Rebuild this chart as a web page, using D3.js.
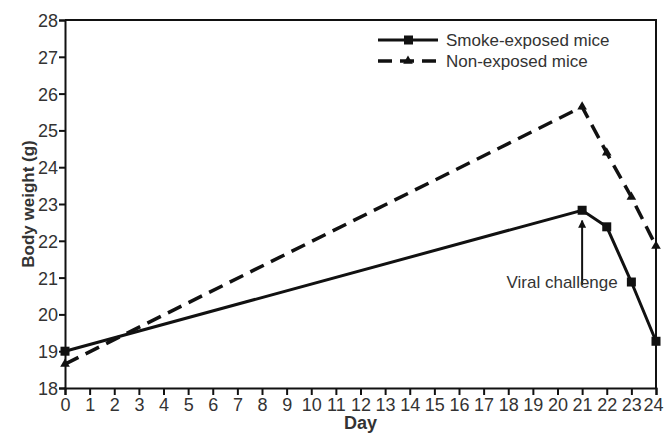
<!DOCTYPE html>
<html>
<head>
<meta charset="utf-8">
<script src="https://cdn.jsdelivr.net/npm/d3@7"></script>
<style>
  body { margin: 0; background: #fff; }
  text { font-family: "Liberation Sans", Arial, sans-serif; fill: #333; }
</style>
</head>
<body>
<svg id="chart" width="664" height="433"></svg>
<script>
// values
const days = [0, 21, 22, 23, 24];
const smokeWeights = [19.0, 22.83, 22.38, 20.88, 19.27];
const nonExposedWeights = [18.65, 25.64, 24.39, 23.19, 21.86];
const seriesNames = ['Smoke-exposed mice', 'Non-exposed mice'];
const xTicks = d3.range(0, 25);
const yTicks = d3.range(18, 29);

const svg = d3.select('#chart');
const margin = { top: 20, right: 8, bottom: 45, left: 65 };
const width = 664 - margin.left - margin.right;
const height = 433 - margin.top - margin.bottom;

const g = svg.append('g').attr('transform', `translate(${margin.left},${margin.top})`);

const x = d3.scaleLinear().domain([0, 24]).range([0, width]);
const y = d3.scaleLinear().domain([18, 28]).range([height, 0]);

// frame top and right
g.append('path')
    .attr('d', `M0,0H${width}V${height}`)
    .attr('fill', 'none')
    .attr('stroke', '#111')
    .attr('stroke-width', 2);

const xAxis = g.append('g')
    .attr('transform', `translate(0,${height})`)
    .call(d3.axisBottom(x).tickValues(xTicks).tickSize(7).tickPadding(3));

const yAxis = g.append('g')
    .call(d3.axisLeft(y).tickValues(yTicks).tickSize(6).tickPadding(1));

[xAxis, yAxis].forEach(ax => {
    ax.select('.domain').attr('stroke', '#111').attr('stroke-width', 2);
    ax.selectAll('.tick line').attr('stroke', '#111').attr('stroke-width', 2);
    ax.selectAll('.tick text').attr('fill', '#333').style('font-size', '18px');
});
yAxis.selectAll('.tick text').attr('dy', '0.36em');
// keep the last day label inside the window
xAxis.selectAll('.tick text').filter(d => d === 24).attr('dx', -3);

// axis titles
svg.append('text')
    .attr('x', margin.left + x(12))
    .attr('y', 429)
    .attr('text-anchor', 'middle')
    .style('font-size', '18px')
    .style('font-weight', 'bold')
    .text('Day');

svg.append('text')
    .attr('transform', `translate(34,${margin.top + height / 2}) rotate(-90)`)
    .attr('text-anchor', 'middle')
    .style('font-size', '17px')
    .style('font-weight', 'bold')
    .text('Body weight (g)');

const line = d3.line()
    .x(d => x(d[0]))
    .y(d => y(d[1]));

const smoke = days.map((d, i) => [d, smokeWeights[i]]);
const nonExposed = days.map((d, i) => [d, nonExposedWeights[i]]);

g.append('path')
    .datum(nonExposed)
    .attr('d', line)
    .attr('fill', 'none')
    .attr('stroke', '#111')
    .attr('stroke-width', 3.5)
    .attr('stroke-dasharray', '15,8');

g.append('path')
    .datum(smoke)
    .attr('d', line)
    .attr('fill', 'none')
    .attr('stroke', '#111')
    .attr('stroke-width', 3);

const triangle = d3.symbol().type(d3.symbolTriangle).size(40);

g.selectAll('.tri')
    .data(nonExposed)
    .enter()
    .append('path')
    .attr('class', 'tri')
    .attr('transform', d => `translate(${x(d[0])},${y(d[1])})`)
    .attr('d', triangle)
    .attr('fill', '#111');

g.selectAll('.sq')
    .data(smoke)
    .enter()
    .append('rect')
    .attr('class', 'sq')
    .attr('x', d => x(d[0]) - 4.5)
    .attr('y', d => y(d[1]) - 4.5)
    .attr('width', 9)
    .attr('height', 9)
    .attr('fill', '#111');

// annotation
svg.append('defs').append('marker')
    .attr('id', 'arrowhead')
    .attr('viewBox', '0 0 10 10')
    .attr('refX', 9)
    .attr('refY', 5)
    .attr('markerWidth', 4)
    .attr('markerHeight', 4)
    .attr('orient', 'auto')
    .append('path')
    .attr('d', 'M0,0L10,5L0,10Z')
    .attr('fill', '#111');

g.append('line')
    .attr('x1', x(21))
    .attr('x2', x(21))
    .attr('y1', y(20.8))
    .attr('y2', y(22.55))
    .attr('stroke', '#111')
    .attr('stroke-width', 2)
    .attr('marker-end', 'url(#arrowhead)');

g.append('text')
    .attr('x', x(21) - 20)
    .attr('y', y(20.88) + 6)
    .attr('text-anchor', 'middle')
    .style('font-size', '17px')
    .text('Viral challenge');

// legend
const legend = svg.append('g').attr('transform', 'translate(378,40)');
seriesNames.forEach((name, i) => {
    const row = legend.append('g').attr('transform', `translate(0,${i * 21})`);
    row.append('line')
        .attr('x1', 0).attr('x2', 60)
        .attr('stroke', '#111')
        .attr('stroke-width', i === 0 ? 3 : 3.5)
        .attr('stroke-dasharray', i === 0 ? null : '14,8');
    if (i === 0) {
        row.append('rect').attr('x', 26).attr('y', -4.5).attr('width', 9).attr('height', 9).attr('fill', '#111');
    } else {
        row.append('path').attr('transform', 'translate(30,0)').attr('d', triangle).attr('fill', '#111');
    }
    row.append('text')
        .attr('x', 68)
        .attr('y', 0)
        .attr('dy', '0.36em')
        .style('font-size', '17px')
        .text(name);
});
</script>
</body>
</html>
